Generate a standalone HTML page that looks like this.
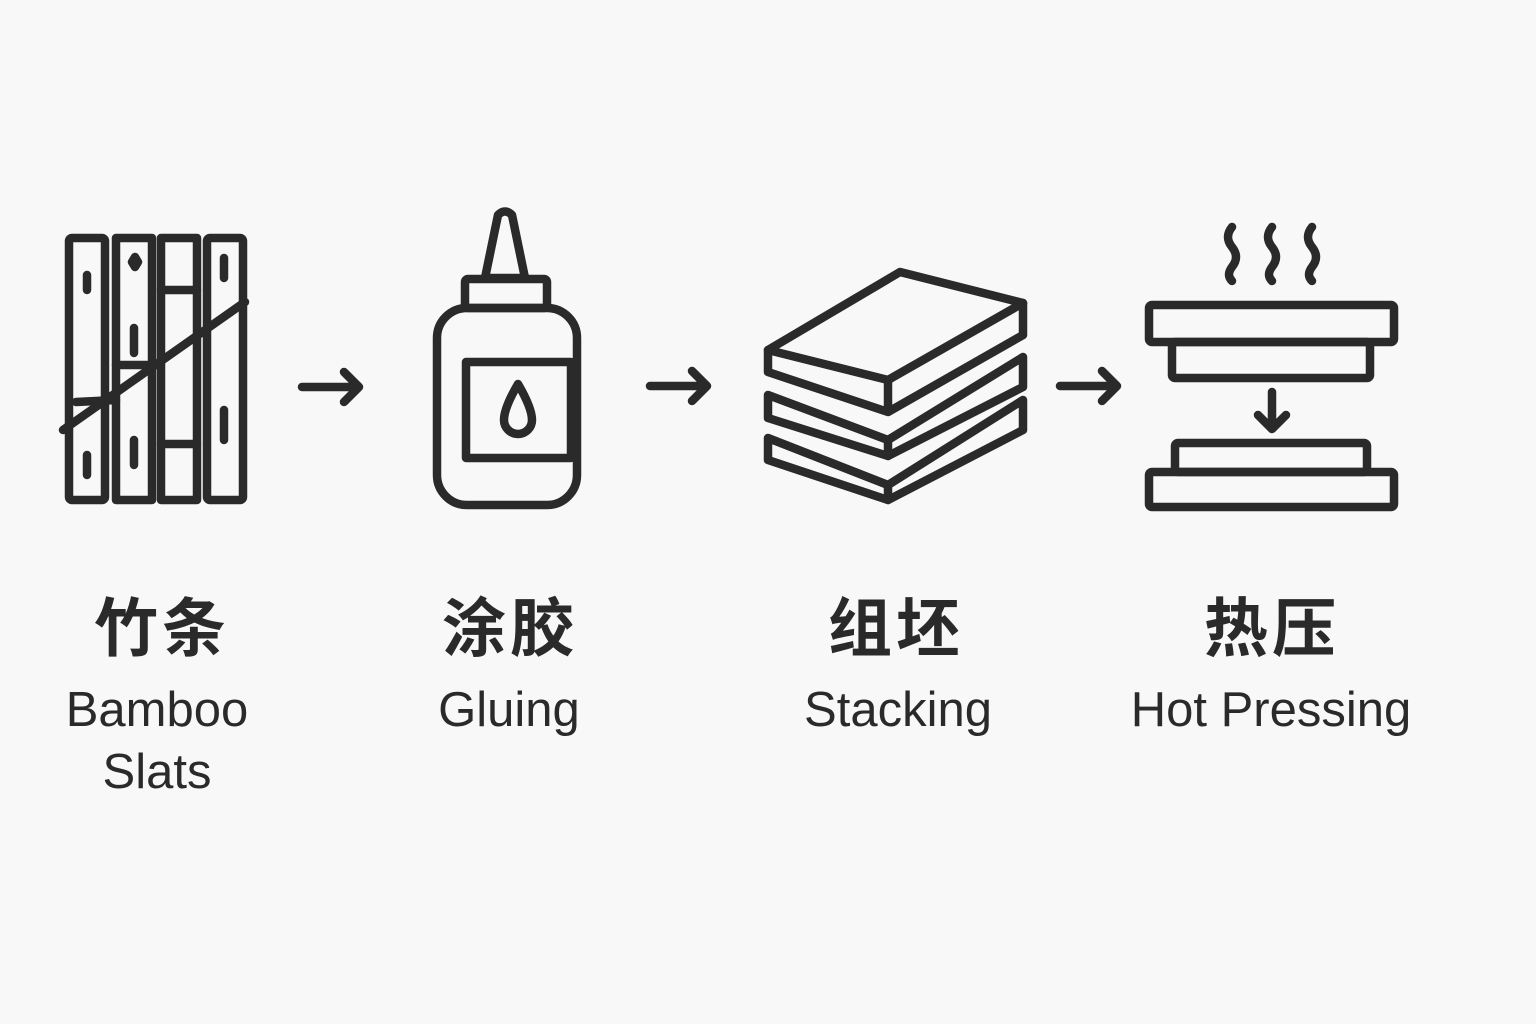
<!DOCTYPE html>
<html><head><meta charset="utf-8"><style>
body{margin:0;background:#f8f8f8;width:1536px;height:1024px;overflow:hidden;position:relative;font-family:"Liberation Sans","Noto Sans CJK SC",sans-serif;color:#2a2a2a}
.t{position:absolute;text-align:center;width:400px;margin-left:-200px}
.cn{font-family:"Noto Sans CJK SC",sans-serif;font-weight:700;font-size:64px;line-height:1;top:592px;letter-spacing:4px}
.en{font-size:49px;line-height:62px;top:679px}
</style></head><body>
<svg width="1536" height="1024" style="position:absolute;left:0;top:0" fill="none" stroke="#2a2a2a" stroke-width="8.5" stroke-linecap="round" stroke-linejoin="round">
<rect x="69" y="238" width="36" height="262" rx="3"/>
<path d="M116 238h36v262h-36z" />
<path d="M161 238h36v262h-36z"/>
<rect x="207" y="238" width="36" height="262" rx="3"/>
<path d="M76 402 L116 400 M116 365 L152 365 M161 290h36 M161 444h36"/>
<path d="M87 275v15 M87 455v20 M134 328v25 M134 440v25 M224 258v20 M224 410v30"/>
<path d="M132 262l3 -5 3 5 -3 5z" fill="#2a2a2a"/>
<path d="M63 430 L245 302"/>
<path d="M302 387h56 M344 372l15 15-15 15"/>
<path d="M485 278 L498 215 Q505 208 512 215 L525 278Z"/>
<rect x="465" y="279" width="82" height="29" rx="3"/>
<rect x="437" y="308" width="140" height="197" rx="30"/>
<rect x="466" y="362" width="105" height="96"/>
<path d="M518 384 Q504 408 504 420 a14 14 0 0 0 28 0 Q532 408 518 384Z"/>
<path d="M650 386h56 M692 371l15 15-15 15"/>
<path d="M768 438 L888 485 L1023 400 L1023 430 L888 500 L768 460Z"/>
<path d="M768 395 L888 440 L1023 357 L1023 387 L888 456 L768 418Z"/>
<path d="M768 350 L900 272 L1023 303 L888 380 Z"/>
<path d="M768 350 L768 372 L888 412 L1023 335 L1023 303 M888 380 L888 412"/>
<path d="M888 440 L888 456 M888 485 L888 500"/>
<path d="M1060 386h56 M1102 371l15 15-15 15"/>
<path d="M1232 227 q-8 10 0 20 q8 10 0 20 q-6 8 0 14 M1272 227 q-8 10 0 20 q8 10 0 20 q-6 8 0 14 M1312 227 q-8 10 0 20 q8 10 0 20 q-6 8 0 14"/>
<rect x="1149" y="305" width="245" height="37" rx="3"/>
<rect x="1172" y="342" width="198" height="36" rx="3"/>
<path d="M1272 392v36 M1258 415l14 14 14-14"/>
<rect x="1175" y="443" width="192" height="29" rx="3"/>
<rect x="1149" y="472" width="245" height="35" rx="3"/>
</svg>
<div class="t cn" style="left:162px">竹条</div>
<div class="t en" style="left:157px">Bamboo<br>Slats</div>
<div class="t cn" style="left:510px">涂胶</div>
<div class="t en" style="left:509px">Gluing</div>
<div class="t cn" style="left:896px">组坯</div>
<div class="t en" style="left:898px">Stacking</div>
<div class="t cn" style="left:1272px">热压</div>
<div class="t en" style="left:1271px">Hot Pressing</div>
</body></html>
